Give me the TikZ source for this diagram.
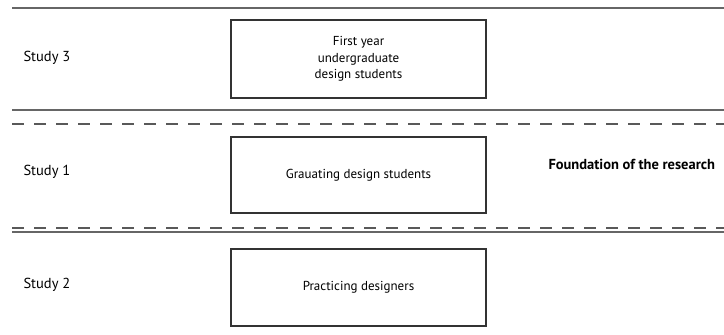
\documentclass[tikz,border=0pt]{standalone}
\usepackage{fontspec}
\setmainfont{PT Sans}
\begin{document}
\begin{tikzpicture}[x=1pt,y=-1pt,
  rule/.style={draw=black!60,line width=1.6pt},
  dashrule/.style={draw=black!65,line width=1.3pt,dash pattern=on 12pt off 10pt},
  groupbox/.style={draw=black!80,line width=1.2pt,minimum width=255pt,align=center,font=\fontsize{13}{16.5}\selectfont},
  studylabel/.style={anchor=west,font=\fontsize{14.5}{16}\selectfont}]
\useasboundingbox (0,0) rectangle (724,335);
% separators
\coordinate (t0) at (12,8);    \coordinate (t1) at (724,8);
\coordinate (s0) at (12,110);  \coordinate (s1) at (724,110);
\coordinate (d0) at (12,124);  \coordinate (d1) at (724,124);
\coordinate (e0) at (12,228);  \coordinate (e1) at (724,228);
\coordinate (f0) at (12,232);  \coordinate (f1) at (724,232);
\draw[rule] (t0) -- (t1);
\draw[rule,line width=1.2pt] (s0) -- (s1);
\draw[dashrule] (d0) -- (d1);
\draw[dashrule] (e0) -- (e1);
\draw[rule,line width=1.2pt] (f0) -- (f1);
% boxes
\node[groupbox,minimum height=78pt] (b3) at (358.5,59) {First year\\undergraduate\\design students};
\node[groupbox,minimum height=76pt] (b1) at (358.5,175) {Grauating design students};
\node[groupbox,minimum height=77pt] (b2) at (358.5,287.5) {Practicing designers};
% labels
\node[studylabel] (l3) at (20,58) {Study 3};
\node[studylabel] (l1) at (20,172) {Study 1};
\node[studylabel] (l2) at (20,285) {Study 2};
\node[anchor=west,font=\fontsize{14.5}{16}\selectfont\bfseries] (fd) at (545,164) {Foundation of the research};
\end{tikzpicture}
\end{document}
